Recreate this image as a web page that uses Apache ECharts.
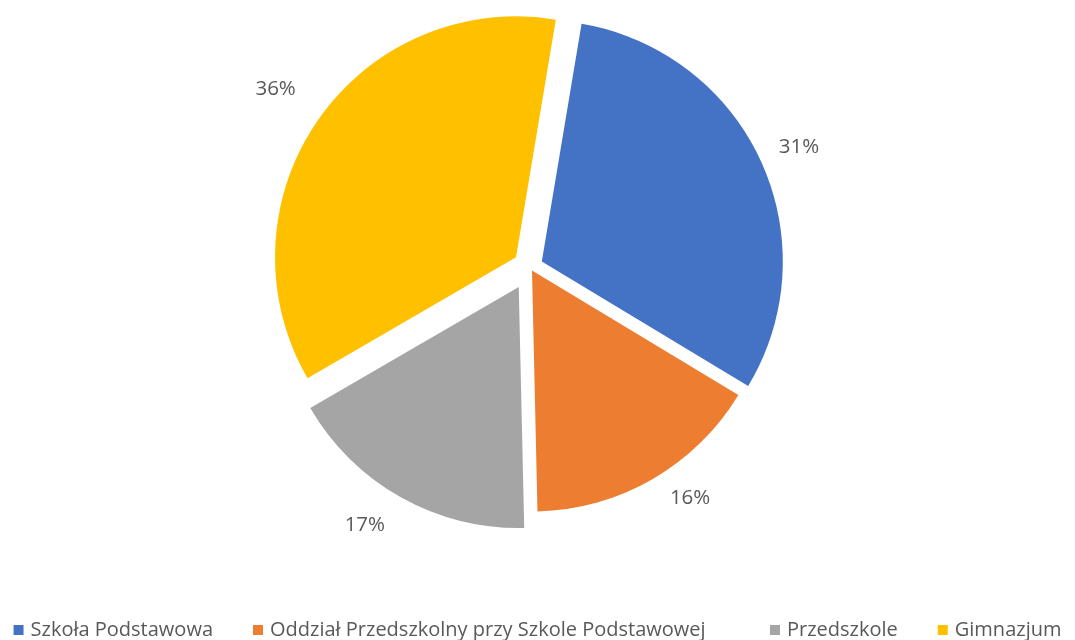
<!DOCTYPE html>
<html>
<head>
<meta charset="utf-8">
<script src="https://cdn.jsdelivr.net/npm/echarts@6/dist/echarts.min.js"></script>
<style>
  html, body { margin: 0; padding: 0; background: #fff; }
  #chart { width: 1075px; height: 640px; }
</style>
</head>
<body>
<div id="chart"></div>
<script>
  const categories = ['Szkoła Podstawowa', 'Oddział Przedszkolny przy Szkole Podstawowej', 'Przedszkole', 'Gimnazjum']
  const shares = [31, 16, 17, 36]
  const colors = ['#4472C4', '#ED7D31', '#A5A5A5', '#FFC000']
  // how far each slice is pulled out (px)
  const explode = [13, 4, 23, 17]
  // small label nudges [dx, dy] so the percent labels sit where Excel put them
  const labelNudge = [[-7, -5], [1, 0], [0, 9], [1, -18]]

  const textColor = '#595959'
  const font = 'Open Sans'

  const chart = echarts.init(document.getElementById('chart'))

  // one pie per slice, so each slice gets its own selectedOffset
  const series = categories.map((_, k) => ({
    type: 'pie',
    center: [530, 267],
    radius: 241,
    startAngle: 80.5,
    clockwise: true,
    selectedMode: 'multiple',
    selectedOffset: explode[k],
    silent: true,
    animation: false,
    emphasis: { disabled: true },
    labelLine: { show: false, length: 22, length2: 0 },
    labelLayout: { dx: labelNudge[k][0], dy: labelNudge[k][1] },
    data: categories.map((name, i) => ({
      name: name,
      value: shares[i],
      selected: i === k,
      itemStyle: { color: colors[i], opacity: i === k ? 1 : 0 },
      label: i === k
        ? { show: true, position: 'outside', formatter: '{d}%', color: textColor, fontFamily: font, fontSize: 20.5 }
        : { show: false }
    }))
  }))

  chart.setOption({
    backgroundColor: '#fff',
    legend: {
      left: 'center',
      top: 618,
      padding: 0,
      icon: 'rect',
      itemWidth: 10,
      itemHeight: 10,
      itemGap: 40,
      selectedMode: false,
      textStyle: { color: textColor, fontFamily: font, fontSize: 20, lineHeight: 24, padding: [0, 0, 0, 2] },
      data: categories.map((name, i) => ({
        name: name,
        itemStyle: { color: colors[i], opacity: 1 },
        // the long entry is a touch wider in the original font
        textStyle: i === 1 ? { width: 460, overflow: 'none' } : {}
      }))
    },
    series: series
  })
</script>
</body>
</html>
